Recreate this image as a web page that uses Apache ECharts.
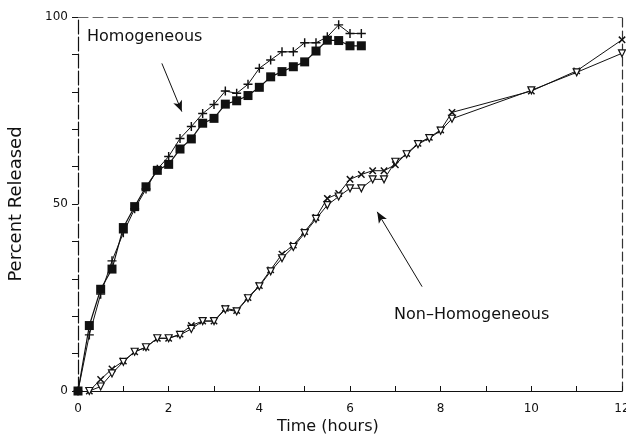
<!DOCTYPE html>
<html>
<head>
<meta charset="utf-8">
<script src="https://cdn.jsdelivr.net/npm/echarts@6/dist/echarts.min.js"></script>
<style>
  html, body { margin: 0 !important; padding: 0; background: #fff; overflow: hidden; }
  #chart { width: 626px; height: 438px; }
</style>
</head>
<body>
<div id="chart"></div>
<script>
// Release profiles: percent released vs. time (hours)
const homTime = [0, 0.25, 0.5, 0.75, 1, 1.25, 1.5, 1.75, 2, 2.25, 2.5, 2.75, 3, 3.25, 3.5, 3.75,
  4, 4.25, 4.5, 4.75, 5, 5.25, 5.5, 5.75, 6, 6.25];
const homSquare = [0, 17.5, 27.2, 32.6, 43.7, 49.3, 54.6, 59, 60.6, 64.7, 67.4, 71.6, 72.9, 76.7, 77.6, 79,
  81.2, 84, 85.4, 86.7, 88, 90.9, 93.8, 93.7, 92.3, 92.3];
const homPlus = [0, 15, 25.9, 34.8, 42.3, 48.7, 54, 59.3, 62.7, 67.5, 70.7, 74.2, 76.6, 80.2, 79.6, 82,
  86.3, 88.5, 90.7, 90.7, 93.1, 93.1, 94.7, 97.9, 95.6, 95.6];

const nonTime = [0.25, 0.5, 0.75, 1, 1.25, 1.5, 1.75, 2, 2.25, 2.5, 2.75, 3, 3.25, 3.5, 3.75, 4,
  4.25, 4.5, 4.75, 5, 5.25, 5.5, 5.75, 6, 6.25, 6.5, 6.75, 7, 7.25, 7.5, 7.75, 8, 8.25, 10, 11, 12];
const nonCross = [0, 3.1, 5.9, 8, 10.5, 11.7, 14.1, 14.1, 15.2, 17.5, 18.7, 18.7, 22.1, 21.5, 25, 28.2,
  32.4, 36.6, 39, 42.6, 46.4, 51.5, 52.8, 56.6, 57.9, 58.9, 58.9, 60.5, 63.5, 66.2, 67.8, 69.8, 74.5, 80.2, 85.6, 93.9];
const nonTriangle = [0, 1.2, 4.7, 7.8, 10.5, 11.7, 14.1, 14.1, 15, 16.6, 18.7, 18.7, 21.8, 21.3, 24.8, 28,
  32, 35.5, 38.5, 42.2, 46, 49.7, 52, 54.2, 54.2, 56.6, 56.6, 61.3, 63.3, 66, 67.6, 69.6, 72.8, 80.4, 85.2, 90.3];

const xLabels = [0, 2, 4, 6, 8, 10, 12];
const yLabels = [0, 50, 100];

const ink = '#111';
const font = 'DejaVu Sans';
const pairs = (xs, ys) => xs.map((x, i) => [x, ys[i]]);
const plusPath = 'path://M4.2,0h1.6v4.2h4.2v1.6h-4.2v4.2h-1.6v-4.2h-4.2v-1.6h4.2z';

const W = 626, H = 438;
const chart = echarts.init(document.getElementById('chart'), null, { renderer: 'canvas', width: W, height: H });
chart.setOption({
  animation: false,
  backgroundColor: '#fff',
  grid: { left: 78, right: 4, top: 17, bottom: 47, containLabel: false, outerBoundsMode: 'none' },
  xAxis: [{
    type: 'value', min: 0, max: 12, interval: 1,
    axisLine: { show: true, onZero: false, lineStyle: { color: ink, width: 1.2 } },
    axisTick: { show: true, inside: true, length: 5, lineStyle: { color: ink } },
    axisLabel: { fontFamily: font, fontSize: 12, color: ink, margin: 12,
      formatter: v => xLabels.includes(v) ? String(v) : '' },
    splitLine: { show: false }
  }, {
    type: 'value', min: 0, max: 12, position: 'top',
    axisLine: { show: true, onZero: false, lineStyle: { color: '#666', width: 1, type: [10, 5] } },
    axisTick: { show: false }, axisLabel: { show: false }, splitLine: { show: false }
  }],
  yAxis: [{
    type: 'value', min: 0, max: 100, interval: 10,
    name: 'Percent Released', nameLocation: 'middle', nameGap: 53,
    nameTextStyle: { fontFamily: font, fontSize: 18, color: ink },
    axisLine: { show: true, onZero: false, lineStyle: { color: ink, width: 1.2, type: [14, 3] } },
    axisTick: { show: true, length: 6, lineStyle: { color: ink } },
    axisLabel: { fontFamily: font, fontSize: 12, color: ink, margin: 10,
      formatter: v => yLabels.includes(v) ? String(v) : '' },
    splitLine: { show: false }
  }, {
    type: 'value', min: 0, max: 100, position: 'right',
    axisLine: { show: true, onZero: false, lineStyle: { color: '#333', width: 1.2, type: [9, 4] } },
    axisTick: { show: false }, axisLabel: { show: false }, splitLine: { show: false }
  }],
  graphic: [
    { type: 'text', left: 277, top: 419,
      style: { text: 'Time (hours)', font: '16px "DejaVu Sans"', fill: ink } },
    { type: 'text', left: 87, top: 29,
      style: { text: 'Homogeneous', font: '16px "DejaVu Sans"', fill: ink } },
    { type: 'text', left: 394, top: 307,
      style: { text: 'Non\u2013Homogeneous', font: '16px "DejaVu Sans"', fill: ink } }
  ],
  series: [
    {
      name: 'Homogeneous (squares)', type: 'line', data: pairs(homTime, homSquare),
      symbol: 'rect', symbolSize: 9, showAllSymbol: true,
      itemStyle: { color: ink }, lineStyle: { color: ink, width: 1.2 },
      markLine: {
        silent: true, symbol: ['none', 'arrow'], symbolSize: [7, 11],
        label: { show: false },
        lineStyle: { color: ink, width: 1, type: 'solid' },
        data: [
          [{ coord: [1.85, 87.6] }, { coord: [2.29, 74.7] }],
          [{ coord: [7.59, 27.9] }, { coord: [6.6, 47.9] }]
        ]
      }
    },
    {
      name: 'Homogeneous (plus)', type: 'line', data: pairs(homTime, homPlus),
      symbol: plusPath, symbolSize: 9, showAllSymbol: true,
      itemStyle: { color: ink }, lineStyle: { color: ink, width: 1 }
    },
    {
      name: 'Non-Homogeneous (cross)', type: 'line', data: pairs(nonTime, nonCross),
      symbol: plusPath, symbolRotate: 45, symbolSize: 9, showAllSymbol: true,
      itemStyle: { color: ink }, lineStyle: { color: ink, width: 1 }
    },
    {
      name: 'Non-Homogeneous (triangle)', type: 'line', data: pairs(nonTime, nonTriangle),
      symbol: 'triangle', symbolRotate: 180, symbolSize: 7, showAllSymbol: true,
      itemStyle: { color: '#fff', borderColor: ink, borderWidth: 1.2 },
      lineStyle: { color: ink, width: 1 }
    }
  ]
});
</script>
</body>
</html>
